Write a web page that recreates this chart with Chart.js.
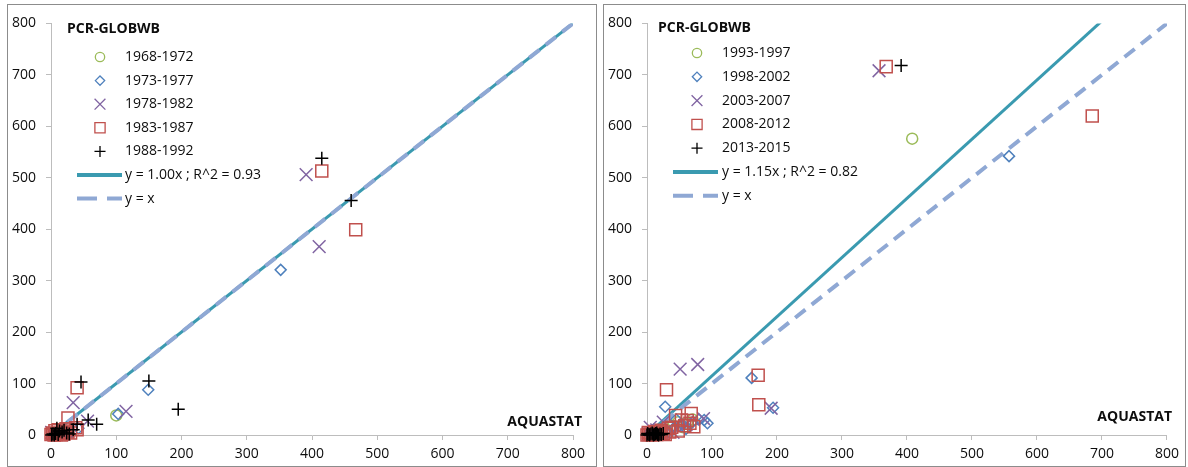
<!DOCTYPE html>
<html>
<head>
<meta charset="utf-8">
<script src="https://cdn.jsdelivr.net/npm/chart.js@4.4.1/dist/chart.umd.min.js"></script>
<style>
  body { margin: 0; background: #fff; width: 1188px; height: 467px; overflow: hidden; position: relative; }
  .panel { position: absolute; top: 4px; border: 1px solid #8c8c8c; background: #fff; }
  .panel canvas { display: block; }
</style>
</head>
<body>
<div class="panel" style="left:7px"><canvas id="left" width="588" height="461"></canvas></div>
<div class="panel" style="left:603px"><canvas id="right" width="581" height="461"></canvas></div>
<script>
// shared axis ticks (both axes, both panels)
const axisTicks = [0, 100, 200, 300, 400, 500, 600, 700, 800];
const lineX = [0, 800];

// left panel: 1968-1992
const leftPeriods = ['1968-1972', '1973-1977', '1978-1982', '1983-1987', '1988-1992'];
const left1 = [[100, 38], [23, 1], [5, 1], [12, 4]];
const left2 = [[352, 321], [149, 88], [103, 41], [42, 13], [8, 2], [3, 0], [18, 5], [12, 0], [28, 3]];
const left3 = [[391, 506], [411, 366], [34, 63], [115, 46], [56, 27], [4, 1], [10, 3], [25, 6], [1, 5], [18, 2]];
const left4 = [[415, 513], [467, 399], [40, 92], [26, 33], [0, 1], [5, 0], [11, 10], [18, 6], [26, 6], [40, 10], [3, 2],
  [23, 12], [38, 14], [2, 4], [8, 1], [14, 3], [20, 2], [30, 4], [6, 8], [16, 0]];
const left5 = [[415, 538], [460, 456], [46, 103], [150, 105], [195, 50], [40, 21], [57, 29], [70, 21], [1, 0], [3, 2],
  [9, 13], [13, 8], [17, 6], [24, 4], [5, 0], [7, 3], [11, 1], [20, 9], [28, 2], [34, 10]];
const leftSlope = 1.00, leftR2 = 0.93;

// right panel: 1993-2015
const rightPeriods = ['1993-1997', '1998-2002', '2003-2007', '2008-2012', '2013-2015'];
const right1 = [[408, 576], [48, 25], [56, 15], [62, 22], [40, 18], [70, 30], [30, 10], [5, 2]];
const right2 = [[557, 542], [161, 111], [194, 53], [28, 55], [93, 23], [88, 29], [55, 20], [45, 30], [20, 8], [35, 5],
  [8, 3], [60, 12], [10, 10], [25, 15], [40, 12], [50, 18], [70, 25], [80, 30]];
const right3 = [[357, 708], [51, 128], [78, 137], [191, 52], [87, 32], [5, 15], [25, 25], [15, 10], [60, 20], [40, 5], [2, 3]];
const right4 = [[368, 716], [685, 620], [171, 116], [172, 59], [30, 88], [44, 38], [68, 42], [53, 29], [66, 23], [33, 13],
  [0, 0], [5, 2], [10, 4], [15, 1], [20, 6], [25, 3], [58, 18], [72, 16], [2, 5], [8, 0], [12, 7], [18, 3], [22, 9],
  [28, 1], [35, 6], [38, 15], [48, 8], [62, 28], [3, 1]];
const right5 = [[391, 718], [0, 0], [3, 1], [6, 2], [10, 0], [13, 3], [16, 1], [8, 4], [20, 2], [1, 3], [4, 0], [9, 2],
  [12, 1], [15, 4], [18, 0], [22, 1], [25, 3]];
const rightSlope = 1.15, rightR2 = 0.82;

const markerStyles = [
  { pointStyle: 'circle', color: '#9BBB59', radius: 5.5 },
  { pointStyle: 'rectRot', color: '#4F81BD', radius: 5.5 },
  { pointStyle: 'crossRot', color: '#8064A2', radius: 9 },
  { pointStyle: 'rect', color: '#C0504D', radius: 8.5 },
  { pointStyle: 'cross', color: '#000000', radius: 6.5 }
];
const trendColor = '#3A9AB0';
const identityColor = '#8FA8D4';

Chart.defaults.font.family = '"Open Sans", sans-serif';
Chart.defaults.font.size = 14;
Chart.defaults.color = '#0d0d0d';

// hand-placed legend + x axis caption, drawn on top of the plot
const legendBox = {
  id: 'legendBox',
  afterDraw(chart, args, opts) {
    const ctx = chart.ctx;
    ctx.save();
    ctx.fillStyle = '#0d0d0d';
    ctx.textBaseline = 'middle';
    ctx.textAlign = 'left';
    ctx.font = 'bold 14px "Open Sans"';
    ctx.fillText('PCR-GLOBWB', opts.titleX, opts.titleY);
    ctx.font = '14px "Open Sans"';
    chart.data.datasets.forEach((ds, i) => {
      const y = opts.rowY + i * opts.rowH;
      ctx.save();
      if (ds.showLine) {
        ctx.strokeStyle = ds.borderColor;
        ctx.lineWidth = 4;
        ctx.setLineDash(ds.borderDash ? [20, 10] : []);
        ctx.beginPath();
        ctx.moveTo(opts.lineX0, y);
        ctx.lineTo(opts.lineX1, y);
        ctx.stroke();
      } else {
        ctx.strokeStyle = ds.borderColor;
        ctx.fillStyle = 'rgba(0,0,0,0)';
        ctx.lineWidth = 1.3;
        Chart.helpers.drawPoint(ctx, {
          pointStyle: ds.pointStyle, radius: ds.pointRadius * 0.85, borderWidth: 1.3, rotation: 0
        }, opts.markX, y);
      }
      ctx.restore();
      ctx.fillText(ds.label, opts.textX, y);
    });
    ctx.font = 'bold 14px "Open Sans"';
    ctx.textAlign = 'right';
    ctx.fillText('AQUASTAT', opts.axisX, opts.axisY);
    ctx.restore();
  }
};

function axis(pos) {
  return {
    type: 'linear',
    position: pos,
    min: 0,
    max: 800,
    afterBuildTicks: s => { s.ticks = axisTicks.map(v => ({ value: v })); },
    afterFit: s => { if (pos === 'left') s.width = 40; else s.height = 30; },
    grid: { drawOnChartArea: false, drawTicks: true, tickLength: 5, color: '#bdbdbd' },
    border: { color: '#bdbdbd', width: 1 },
    ticks: { padding: pos === 'left' ? 10 : 6, color: '#0d0d0d' }
  };
}

function buildPanel(id, periods, series, slope, r2, pad, legend) {
  // later periods are painted over earlier ones (lower order = drawn later)
  const datasets = series.map((pts, i) => {
    const m = markerStyles[i];
    return {
      label: periods[i],
      data: pts.map(p => ({ x: p[0], y: p[1] })),
      pointStyle: m.pointStyle,
      pointRadius: m.radius,
      pointBorderWidth: 1.5,
      borderColor: m.color,
      backgroundColor: 'rgba(0,0,0,0)',
      pointBackgroundColor: 'rgba(0,0,0,0)',
      pointBorderColor: m.color,
      clip: false,
      order: -1 - i
    };
  });
  datasets.push({
    label: 'y = ' + slope.toFixed(2) + 'x ; R^2 = ' + r2.toFixed(2),
    data: lineX.map(x => ({ x: x, y: slope * x })),
    showLine: true,
    pointRadius: 0,
    borderColor: trendColor,
    borderWidth: 3,
    order: 2
  });
  datasets.push({
    label: 'y = x',
    data: lineX.map(x => ({ x: x, y: x })),
    showLine: true,
    pointRadius: 0,
    borderColor: identityColor,
    borderWidth: 4,
    borderDash: [13, 8],
    order: 1
  });

  return new Chart(document.getElementById(id), {
    type: 'scatter',
    data: { datasets: datasets },
    options: {
      responsive: false,
      devicePixelRatio: 1,
      animation: false,
      events: [],
      layout: { padding: pad },
      scales: { x: axis('bottom'), y: axis('left') },
      plugins: { legend: { display: false }, tooltip: { enabled: false }, legendBox: legend }
    },
    plugins: [legendBox]
  });
}

buildPanel('left', leftPeriods, [left1, left2, left3, left4, left5], leftSlope, leftR2,
  { left: 3, right: 23, top: 11, bottom: 1 },
  { titleX: 59, titleY: 24, markX: 92, textX: 117, rowY: 52, rowH: 23.6, lineX0: 69, lineX1: 114, axisX: 574, axisY: 417 });

buildPanel('right', rightPeriods, [right1, right2, right3, right4, right5], rightSlope, rightR2,
  { left: 3, right: 18, top: 11, bottom: 1 },
  { titleX: 54, titleY: 23, markX: 93, textX: 118, rowY: 48, rowH: 23.8, lineX0: 69, lineX1: 114, axisX: 568, axisY: 412 });
</script>
</body>
</html>
